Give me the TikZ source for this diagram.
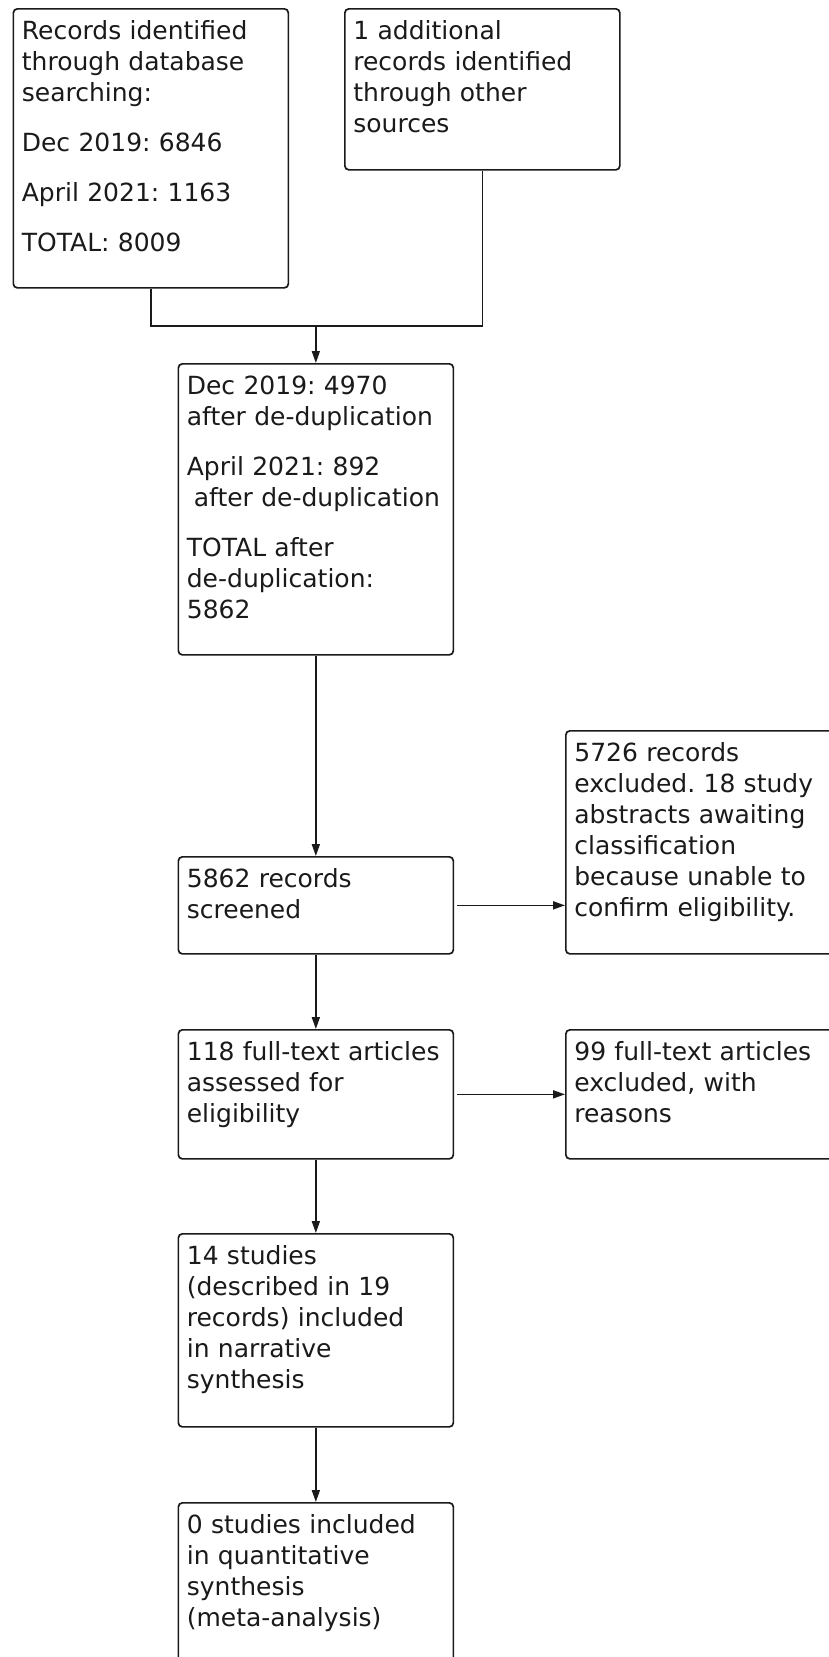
\documentclass[tikz,border=0pt]{standalone}
\usepackage{fontspec}
\setmainfont{DejaVu Sans}
\usetikzlibrary{arrows.meta}
\definecolor{ink}{HTML}{1A1A1A}
\frenchspacing
\begin{document}
\begin{tikzpicture}[x=1pt,y=-1pt,
  flowbox/.style={draw=ink, line width=1.7pt, rounded corners=4pt, rectangle,
    anchor=north west, text width=258pt, inner xsep=8.5pt, inner ysep=12pt,
    text height=19pt, align=left, text=ink,
    font=\fontsize{25}{31}\selectfont\frenchspacing},
  conn/.style={draw=ink, line width=1.7pt},
  arr/.style={conn, -{Triangle[length=12pt,width=8pt]}}
]
\useasboundingbox[fill=white] (0,0) rectangle (829,1657);

\node[flowbox, text depth=236pt] (b1) at (12.5,8) {Records identified\\through database\\searching:\\[19pt]Dec 2019: 6846\\[19pt]April 2021: 1163\\[19pt]TOTAL: 8009};
\node[flowbox, text depth=118pt] (b2) at (344,8) {1 additional\\records identified\\through other\\sources};
\node[flowbox, text depth=248pt] (b3) at (177.5,363) {Dec 2019: 4970\\after de-duplication\\[19pt]April 2021: 892\\\hspace*{7pt}after de-duplication\\[19pt]TOTAL after\\de-duplication:\\5862};
\node[flowbox, text depth=54pt] (b4) at (177.5,856) {5862 records\\screened};
\node[flowbox, text depth=180pt] (b5) at (565,730) {5726 records\\excluded. 18 study\\abstracts awaiting\\classification\\because unable to\\confirm eligibility.};
\node[flowbox, text depth=86pt] (b6) at (177.5,1029) {118 full-text articles\\assessed for\\eligibility};
\node[flowbox, text depth=86pt] (b7) at (565,1029) {99 full-text articles\\excluded, with\\reasons};
\node[flowbox, text depth=150pt] (b8) at (177.5,1233) {14 studies\\(described in 19\\records) included\\in narrative\\synthesis};
\node[flowbox, text depth=117pt] (b9) at (177.5,1502) {0 studies included\\in quantitative\\synthesis\\(meta-analysis)};

\coordinate (j) at (b3.north |- 0,326);
\draw[conn] (b1.south) |- (j);
\draw[conn] (b2.south) |- (j);
\draw[arr] (j) -- (b3.north);
\draw[arr] (b3.south) -- (b4.north);
\draw[arr, shorten <=3pt] (b4.east) -- (b4.east -| b5.west);
\draw[arr] (b4.south) -- (b6.north);
\draw[arr, shorten <=3pt] (b6.east) -- (b6.east -| b7.west);
\draw[arr] (b6.south) -- (b8.north);
\draw[arr] (b8.south) -- (b9.north);
\end{tikzpicture}
\end{document}
